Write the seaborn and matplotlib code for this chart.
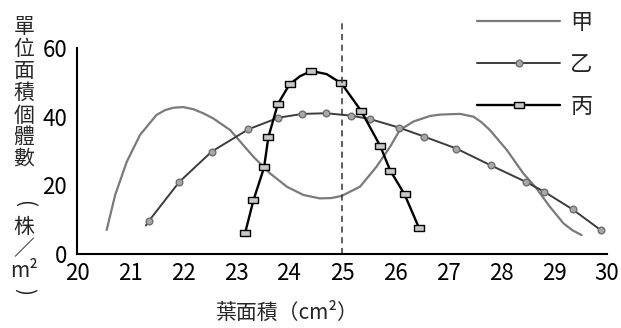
import matplotlib
matplotlib.use('Agg')
import matplotlib.pyplot as plt
import numpy as np
import pandas as pd
import seaborn as sns

# Series values
jia_x = [20.56, 20.72, 20.94, 21.19, 21.50, 21.66, 21.82, 22.00, 22.19, 22.38,
         22.57, 22.89, 23.33, 23.64, 23.96, 24.27, 24.58, 24.80, 24.99, 25.34,
         25.65, 25.91, 26.09, 26.35, 26.66, 26.85, 27.00, 27.23, 27.48, 27.63,
         27.79, 28.11, 28.42, 28.67, 28.92, 29.18, 29.35, 29.52]
jia_y = [7.0, 17.2, 26.9, 34.7, 40.5, 41.9, 42.6, 42.8, 42.2, 41.0,
         39.5, 36.1, 28.3, 23.5, 19.6, 17.2, 16.2, 16.3, 16.9, 19.6,
         25.4, 31.3, 36.1, 38.6, 40.2, 40.6, 40.7, 40.8, 40.0, 38.4,
         36.1, 30.3, 23.5, 19.1, 13.8, 8.9, 6.9, 5.5]

yi_x = [21.30, 21.36, 21.93, 22.54, 23.23, 23.80, 24.25, 24.70, 25.17, 25.53,
        26.08, 26.55, 27.16, 27.81, 28.47, 28.82, 29.35, 29.88]
yi_y = [8.3, 9.7, 21.0, 29.8, 36.3, 39.7, 40.8, 41.0, 40.3, 39.3,
        36.8, 34.2, 30.7, 25.8, 21.0, 18.1, 13.0, 7.0]
yi_marked = list(range(1, len(yi_x)))

bing_x = [23.17, 23.33, 23.53, 23.61, 23.79, 24.01, 24.21, 24.42, 24.71, 24.99,
          25.36, 25.72, 25.91, 26.18, 26.45]
bing_y = [6.0, 15.7, 25.2, 34.0, 43.7, 49.4, 51.8, 53.3, 52.4, 49.7,
          41.7, 31.5, 24.3, 17.4, 7.7]
bing_marked = [0, 1, 2, 3, 4, 5, 7, 9, 10, 11, 12, 13, 14]

series_labels = ['甲', '乙', '丙']
x_ticks = list(range(20, 31))
y_ticks = [0, 10, 20, 30, 40, 50, 60]
y_tick_labels = ['0', '', '20', '', '40', '', '60']
ref_x = 25
y_label_chars = ['單', '位', '面', '積', '個', '體', '數', '(', '株', '／', 'm²', ')']
x_label = '葉面積（cm²）'

sns.set_theme(style='white')
plt.rcParams['font.family'] = ['Noto Sans CJK TC', 'DejaVu Sans']

fig = plt.figure(figsize=(6.21, 3.28), dpi=100)
ax = fig.add_axes([77 / 621, 1 - 254 / 328, 530 / 621, 206 / 328])

# rectangular marker for 丙
rect = [(-1, -0.65), (1, -0.65), (1, 0.65), (-1, 0.65), (-1, -0.65)]

sns.lineplot(x=jia_x, y=jia_y, ax=ax, color='#7a7a7a', linewidth=1.6,
             sort=False, estimator=None, label=series_labels[0])
sns.lineplot(x=yi_x, y=yi_y, ax=ax, color='#3c3c3c', linewidth=1.4,
             marker='o', markersize=4.8, markerfacecolor='#a8a8a8',
             markeredgecolor='#6e6e6e', markeredgewidth=1.0,
             markevery=yi_marked, sort=False, estimator=None,
             label=series_labels[1])
sns.lineplot(x=bing_x, y=bing_y, ax=ax, color='black', linewidth=1.7,
             marker=rect, markersize=6.8, markerfacecolor='#c8c8c8',
             markeredgecolor='black', markeredgewidth=1.0,
             markevery=bing_marked, sort=False, estimator=None,
             label=series_labels[2])

ax.axvline(ref_x, ymin=0, ymax=67.3 / 60, clip_on=False, color='#333333',
           linewidth=1.1, linestyle=(0, (4, 3)))

ax.set_xlim(20, 30)
ax.set_ylim(0, 60)
ax.set_xticks(x_ticks)
ax.set_xticklabels([str(t) for t in x_ticks])
ax.set_yticks(y_ticks)
ax.set_yticklabels(y_tick_labels)
ax.tick_params(direction='in', length=9.5, width=1.4, colors='black',
               labelsize=16, pad=7)
ax.tick_params(axis='x', pad=6)
for side in ['top', 'right']:
    ax.spines[side].set_visible(False)
for side in ['left', 'bottom']:
    ax.spines[side].set_color('black')
    ax.spines[side].set_linewidth(1.5)
ax.set_xlabel('')
ax.set_ylabel('')

leg = ax.legend(loc='upper left', bbox_to_anchor=(477 / 621, 1 - 11 / 328),
                bbox_transform=fig.transFigure, frameon=False, fontsize=16,
                handlelength=3.75, handletextpad=0.45, labelspacing=0.85,
                borderpad=0, borderaxespad=0, numpoints=1)

# vertical y label, one character per row
y_centers = [27, 49, 71, 93, 116, 137, 159, 203, 227, 249, 271, 291]
for ch, yc in zip(y_label_chars, y_centers):
    rot = -90 if ch in '()' else 0
    fig.text(24 / 621, 1 - yc / 328, ch, ha='center', va='center',
             fontsize=15, rotation=rot)

fig.text(287 / 621, 1 - 313 / 328, x_label, ha='center', va='center',
         fontsize=15)

fig.savefig('out.png', dpi=100)
plt.close(fig)
